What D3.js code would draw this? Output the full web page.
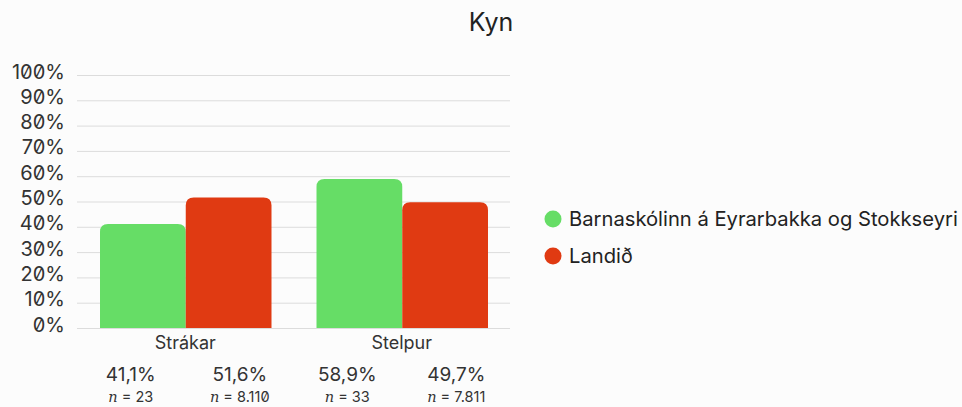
<!DOCTYPE html>
<html>
<head>
<meta charset="utf-8">
<script src="https://cdn.jsdelivr.net/npm/d3@7"></script>
<style>
  body { margin: 0; background: #fcfcfc; }
  svg { font-family: Inter, "Noto Sans", sans-serif; font-feature-settings: "zero" 1; }
</style>
</head>
<body>
<svg id="chart" width="962" height="407"></svg>
<script>
var categories = ["Strákar", "Stelpur"];
var seriesNames = ["Barnaskólinn á Eyrarbakka og Stokkseyri", "Landið"];
var seriesColors = ["#66dd66", "#e03a12"];
var schoolValues = [41.1, 58.9];
var countryValues = [51.6, 49.7];
var schoolN = ["23", "33"];
var countryN = ["8.110", "7.811"];
var yTicks = [0, 10, 20, 30, 40, 50, 60, 70, 80, 90, 100];

var svg = d3.select("#chart");
var plotLeft = 77, plotRight = 510, plotTop = 75, plotBottom = 328;

var x = d3.scaleBand().domain(categories).range([plotLeft, plotRight]).paddingInner(0).paddingOuter(0);
var x1 = d3.scaleBand().domain([0, 1]).range([23, x.bandwidth() - 22]).padding(0);
var y = d3.scaleLinear().domain([0, 100]).range([plotBottom, plotTop]);

svg.append("text")
  .attr("x", 491).attr("y", 31)
  .attr("text-anchor", "middle")
  .attr("font-size", 25)
  .attr("fill", "#222")
  .text("Kyn");

// gridlines
svg.append("g").selectAll("line")
  .data(yTicks)
  .enter().append("line")
  .attr("x1", plotLeft).attr("x2", plotRight)
  .attr("y1", function(d) { return y(d) + 0.5; })
  .attr("y2", function(d) { return y(d) + 0.5; })
  .attr("stroke", "#dcdcdc")
  .attr("stroke-width", 1);

svg.append("g").selectAll("text")
  .data(yTicks)
  .enter().append("text")
  .attr("x", 65)
  .attr("y", function(d) { return y(d) + 3.5; })
  .attr("text-anchor", "end")
  .attr("font-size", 20)
  .attr("fill", "#333")
  .text(function(d) { return d + "%"; });

function topRounded(x0, y0, w, h, r) {
  r = Math.min(r, h);
  return "M" + x0 + "," + (y0 + h) +
    "V" + (y0 + r) +
    "Q" + x0 + "," + y0 + " " + (x0 + r) + "," + y0 +
    "H" + (x0 + w - r) +
    "Q" + (x0 + w) + "," + y0 + " " + (x0 + w) + "," + (y0 + r) +
    "V" + (y0 + h) + "Z";
}

var rows = [];
categories.forEach(function(c, i) {
  rows.push({cat: c, s: 0, v: schoolValues[i], n: schoolN[i]});
  rows.push({cat: c, s: 1, v: countryValues[i], n: countryN[i]});
});

svg.append("g").selectAll("path")
  .data(rows)
  .enter().append("path")
  .attr("fill", function(d) { return seriesColors[d.s]; })
  .attr("d", function(d) {
    var bx = x(d.cat) + x1(d.s);
    return topRounded(bx, y(d.v), x1.bandwidth(), y(0) - y(d.v), 8);
  });

// category labels
svg.append("g").selectAll("text")
  .data(categories)
  .enter().append("text")
  .attr("x", function(d) { return x(d) + x.bandwidth() / 2; })
  .attr("y", 349)
  .attr("text-anchor", "middle")
  .attr("font-size", 18)
  .attr("fill", "#333")
  .text(function(d) { return d; });

var valFmt = function(v) { return v.toFixed(1).replace(".", ",") + "%"; };
function labelX(d) { return x(d.cat) + x.bandwidth() / 2 + (d.s === 0 ? -54.5 : 54.5); }

svg.append("g").selectAll("text")
  .data(rows)
  .enter().append("text")
  .attr("x", labelX)
  .attr("y", 381)
  .attr("text-anchor", "middle")
  .attr("font-size", 19)
  .attr("fill", "#333")
  .text(function(d) { return valFmt(d.v); });

var nText = svg.append("g").selectAll("text")
  .data(rows)
  .enter().append("text")
  .attr("x", labelX)
  .attr("y", 402)
  .attr("text-anchor", "middle")
  .attr("font-size", 14.5)
  .attr("fill", "#333");
nText.append("tspan").attr("font-style", "italic").attr("font-family", "'DejaVu Serif', serif").text("n");
nText.append("tspan").text(function(d) { return " = " + d.n; });

// legend
var legend = svg.append("g").selectAll("g")
  .data(seriesNames)
  .enter().append("g")
  .attr("transform", function(d, i) { return "translate(553," + (219 + i * 37) + ")"; });
legend.append("circle").attr("r", 8.5).attr("fill", function(d, i) { return seriesColors[i]; });
legend.append("text")
  .attr("x", 16).attr("y", 7)
  .attr("font-size", 20.2)
  .attr("fill", "#222")
  .text(function(d) { return d; });
</script>
</body>
</html>
